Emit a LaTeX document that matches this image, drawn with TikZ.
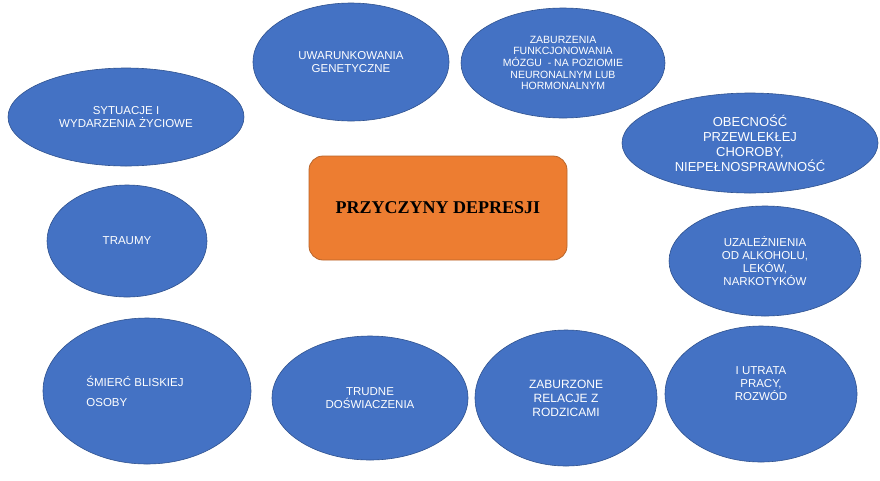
\documentclass[tikz,border=0pt]{standalone}
\usepackage{fontspec}
\setmainfont{Liberation Sans}
\newfontfamily\serifbold{Liberation Serif}
\usetikzlibrary{shapes.geometric}
\definecolor{blobfill}{HTML}{4472C4}
\definecolor{blobline}{HTML}{2F528F}
\definecolor{boxfill}{HTML}{ED7D31}
\definecolor{boxline}{HTML}{B9652A}
\tikzset{
  blob/.style={ellipse, fill=blobfill, draw=blobline, line width=0.6pt, text=white,
    inner sep=0pt, align=center, font=\fontsize{11.5}{13}\selectfont},
  mainbox/.style={rectangle, rounded corners=14pt, fill=boxfill, draw=boxline, line width=0.8pt,
    inner sep=0pt, font=\serifbold\bfseries\fontsize{18}{20}\selectfont, text=black}
}
\begin{document}
\begin{tikzpicture}[x=1pt,y=-1pt]
\useasboundingbox (0,0) rectangle (880,480);
\fill[white] (0,0) rectangle (880,480);

\node[mainbox, minimum width=258pt, minimum height=104pt] (main) at (438,208) {PRZYCZYNY DEPRESJI};

\node[blob, minimum width=236pt, minimum height=98pt] (syt) at (126,117) {SYTUACJE I\\WYDARZENIA ŻYCIOWE};
\node[blob, minimum width=196pt, minimum height=118pt] (gen) at (351,62) {UWARUNKOWANIA\\GENETYCZNE};
\node[blob, minimum width=204pt, minimum height=110pt, font=\fontsize{10.5}{11.7}\selectfont] (moz) at (563,63)
  {ZABURZENIA\\FUNKCJONOWANIA\\MÓZGU \ - NA POZIOMIE\\NEURONALNYM LUB\\HORMONALNYM};
\node[blob, minimum width=256pt, minimum height=100pt, font=\fontsize{13}{15}\selectfont] (cho) at (750,143)
  {OBECNOŚĆ\\PRZEWLEKŁEJ\\CHOROBY,\\NIEPEŁNOSPRAWNOŚĆ};
\node[blob, minimum width=160pt, minimum height=112pt] (tra) at (127,241) {TRAUMY};
\node[blob, minimum width=192pt, minimum height=110pt] (uza) at (765,261)
  {UZALEŻNIENIA\\OD ALKOHOLU,\\LEKÓW,\\NARKOTYKÓW};
\node[blob, minimum width=208pt, minimum height=146pt, align=left, font=\fontsize{11.5}{20}\selectfont] (smi) at (147,391)
  {ŚMIERĆ BLISKIEJ\hspace*{24pt}\\OSOBY};
\node[blob, minimum width=196pt, minimum height=124pt] (tru) at (370,398) {TRUDNE\\DOŚWIACZENIA};
\node[blob, minimum width=182pt, minimum height=136pt, font=\fontsize{12}{14}\selectfont] (rel) at (566,398)
  {ZABURZONE\\RELACJE Z\\RODZICAMI};
\node[blob, minimum width=192pt, minimum height=136pt] (utr) at (761,394)
  {I UTRATA\\PRACY,\\ROZWÓD\\[8pt]\mbox{}};
\end{tikzpicture}
\end{document}
